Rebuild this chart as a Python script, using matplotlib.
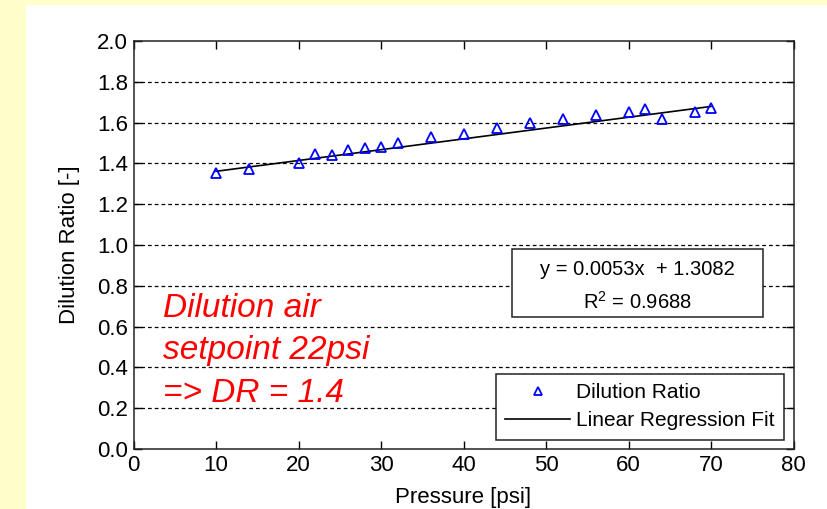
import matplotlib
matplotlib.use("Agg")
import matplotlib.pyplot as plt
import numpy as np
from matplotlib.patches import Rectangle

plt.rcParams['font.family'] = ['Liberation Sans', 'DejaVu Sans']
plt.rcParams['mathtext.fontset'] = 'custom'
plt.rcParams['mathtext.rm'] = 'Liberation Sans'
plt.rcParams['mathtext.it'] = 'Liberation Sans:italic'

# ---- data ----
pressure = [10, 14, 20, 22, 24, 26, 28, 30, 32, 36, 40, 44, 48, 52, 56, 60, 62, 64, 68, 70]
dilution_ratio = [1.351, 1.372, 1.403, 1.448, 1.440, 1.466, 1.474, 1.482, 1.498, 1.528,
                  1.544, 1.575, 1.596, 1.619, 1.635, 1.652, 1.667, 1.616, 1.653, 1.670]
fit_slope = 0.0053
fit_intercept = 1.3082
fit_r2 = 0.9688
fit_range = [10, 70]
x_ticks = [0, 10, 20, 30, 40, 50, 60, 70, 80]
y_ticks = [0.0, 0.2, 0.4, 0.6, 0.8, 1.0, 1.2, 1.4, 1.6, 1.8, 2.0]
y_tick_labels = ["%.1f" % v for v in y_ticks]
annotation_lines = ["Dilution air", "setpoint 22psi", "=> DR = 1.4"]

W, H = 827, 509
fig = plt.figure(figsize=(W / 100, H / 100), dpi=100, facecolor='white')

# yellow slide background strips
yellow = '#FFFFCC'
fig.patches.append(Rectangle((0, 0), 25 / W, 1, transform=fig.transFigure, color=yellow, zorder=0))
fig.patches.append(Rectangle((0, 1 - 4 / H), 1, 4 / H, transform=fig.transFigure, color=yellow, zorder=0))

ax = fig.add_axes([133.5 / W, (H - 449) / H, 660 / W, 408 / H])
ax.set_facecolor('white')

# grid (horizontal only)
for yv in y_ticks[1:-1]:
    ax.axhline(yv, color='black', lw=0.9, linestyle=(0, (3, 2.4)), zorder=1)

ax.plot(pressure, dilution_ratio, linestyle='none', marker='^', ms=7.5, mfc='none',
        mec='#0000FF', mew=1.3, label='Dilution Ratio', zorder=3)
fx = np.array(fit_range, dtype=float)
ax.plot(fx, fit_slope * fx + fit_intercept, color='black', lw=1.2,
        label='Linear Regression Fit', zorder=2)

ax.set_xlim(0, 80)
ax.set_ylim(0, 2.0)
ax.set_xticks(x_ticks)
ax.set_yticks(y_ticks)
ax.set_yticklabels(y_tick_labels)
ax.tick_params(direction='in', length=6, width=1.0, top=True, right=True,
               labelsize=16, colors='black', pad=4)
for s in ax.spines.values():
    s.set_linewidth(1.1)
    s.set_color('#222222')

ax.set_xlabel('Pressure [psi]', fontsize=16, labelpad=8)
ax.set_ylabel('Dilution Ratio [-]', fontsize=16, labelpad=12)

# equation box
ax.add_patch(Rectangle((0.574, 0.3228), 0.954 - 0.574, 0.4895 - 0.3228, transform=ax.transAxes,
                       fill=True, facecolor='white', edgecolor='#222222', lw=1.1, zorder=4))
ax.text(0.7633, 0.4404, 'y = %.4fx  + %.4f' % (fit_slope, fit_intercept), transform=ax.transAxes,
        ha='center', va='center', fontsize=14.5, zorder=5)
ax.text(0.7633, 0.361, 'R$^{2}$ = %.4f' % fit_r2, transform=ax.transAxes,
        ha='center', va='center', fontsize=14.5, zorder=5)

# red annotation
for i, line in enumerate(annotation_lines):
    ax.text((163 - 133.5) / 660, (449 - 316.7 - i * 42.5) / 408, line, transform=ax.transAxes,
            ha='left', va='baseline', fontsize=24, style='italic', color='#FF0000', zorder=5)

leg = ax.legend(loc='lower right', fontsize=15, frameon=True, fancybox=False,
                edgecolor='#222222', framealpha=1, borderaxespad=0.45, handlelength=3.1,
                handletextpad=0.3, borderpad=0.45, labelspacing=0.45, markerscale=0.7)
leg.get_frame().set_linewidth(1.1)
leg.set_zorder(6)

fig.savefig('out.png', dpi=100, facecolor=fig.get_facecolor())
